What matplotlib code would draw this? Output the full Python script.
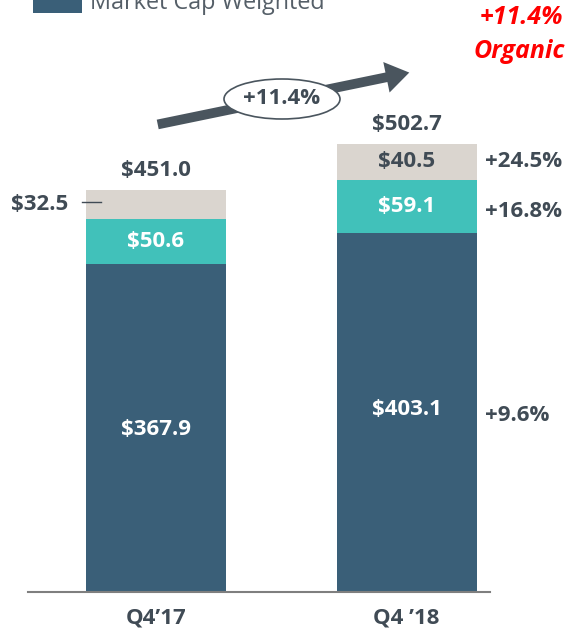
import matplotlib
matplotlib.use("Agg")
import matplotlib.pyplot as plt
from matplotlib.patches import Ellipse, Rectangle, FancyArrowPatch
import numpy as np

# data
quarters = ["Q4\u201917", "Q4 \u201918"]
market_cap = [367.9, 403.1]
middle = [50.6, 59.1]
top = [32.5, 40.5]
totals = [451.0, 502.7]
growth = ["+9.6%", "+16.8%", "+24.5%"]
overall_growth = "+11.4%"

DARK = "#3A5F78"
TEAL = "#41C1BA"
BEIGE = "#DAD5CF"
TXT = "#404B55"
RED = "#FF0000"
FONT = "Open Sans"

plt.rcParams["text.parse_math"] = False

W, H = 570, 632
fig = plt.figure(figsize=(W / 100, H / 100), dpi=100)


def fx(x):
    return x / W


def fy(y):
    return 1 - y / H


# axes: x pixels 28..490, baseline at y=592
px_per_unit = 402 / 451.0
ax = fig.add_axes([fx(28), fy(592), (490 - 28) / W, 592 / H])
ax.set_ylim(0, 592 / px_per_unit)
ax.set_xlim((28 - 156) / 250.5, (490 - 156) / 250.5)
for s in ["top", "right", "left"]:
    ax.spines[s].set_visible(False)
ax.spines["bottom"].set_color("#7F7F7F")
ax.spines["bottom"].set_linewidth(1.5)
ax.set_yticks([])
ax.set_xticks([])

x = np.arange(len(quarters))
bw = 140 / 250.5
mc = np.array(market_cap)
md = np.array(middle)
tp = np.array(top)
ax.bar(x, mc, bw, color=DARK)
ax.bar(x, md, bw, bottom=mc, color=TEAL)
ax.bar(x, tp, bw, bottom=mc + md, color=BEIGE)

kw = dict(family=FONT, fontweight="bold", fontsize=16, ha="center", va="center")
for i in range(len(quarters)):
    ax.text(x[i], mc[i] / 2 + (-2 if i == 0 else 3), f"${mc[i]:.1f}", color="white", **kw)
    ax.text(x[i], mc[i] + md[i] / 2, f"${md[i]:.1f}", color="white", **kw)
    ax.text(x[i], totals[i] + 22, f"${totals[i]:.1f}", color=TXT, **kw)
    ax.text(x[i], -29, quarters[i], color=TXT, clip_on=False, **kw)

# Q4'18 top segment label inside, Q4'17 outside with leader line
ax.text(x[1], mc[1] + md[1] + tp[1] / 2, f"${tp[1]:.1f}", color=TXT, **kw)
y17 = mc[0] + md[0] + tp[0] / 2
ax.text(x[0] - 0.35, y17, f"${tp[0]:.1f}", color=TXT, clip_on=False, **dict(kw, ha="right"))
ax.plot([x[0] - 0.295, x[0] - 0.22], [y17 + 3, y17 + 3], color=TXT, lw=1, clip_on=False)

# growth labels on the right
gy = [mc[1] / 2 - 3, mc[1] + md[1] / 2 - 6, mc[1] + md[1] + tp[1] / 2]
for g, yy in zip(growth, gy):
    ax.text(1.315, yy, g, color=TXT, clip_on=False, **dict(kw, ha="left"))

# arrow with ellipse
fig.add_artist(FancyArrowPatch(
    (fx(155), fy(125)), (fx(412), fy(72)), transform=fig.transFigure,
    arrowstyle="simple,head_width=1.6,head_length=1.2,tail_width=0.5",
    mutation_scale=14, color="#4A555E", lw=0))
fig.add_artist(Ellipse((fx(282), fy(99)), 116 / W, 40 / H, transform=fig.transFigure,
                       facecolor="white", edgecolor="#4A555E", lw=1.2))
fig.text(fx(282), fy(99), overall_growth, color=TXT, **kw)

# red organic note
fig.text(fx(563), fy(18), overall_growth, color=RED, family=FONT, fontweight="bold",
         fontstyle="italic", fontsize=18, ha="right", va="center")
fig.text(fx(565), fy(52), "Organic", color=RED, family=FONT, fontweight="bold",
         fontstyle="italic", fontsize=18, ha="right", va="center")

# legend fragment cut off at the top
fig.add_artist(Rectangle((fx(33), fy(13)), 49 / W, 20 / H, transform=fig.transFigure,
                         facecolor=DARK, edgecolor="none"))
fig.text(fx(90), fy(9), "Market Cap Weighted", color="#555F68", family=FONT,
         fontsize=16.8, ha="left", va="baseline")

fig.savefig("out.png", dpi=100)
